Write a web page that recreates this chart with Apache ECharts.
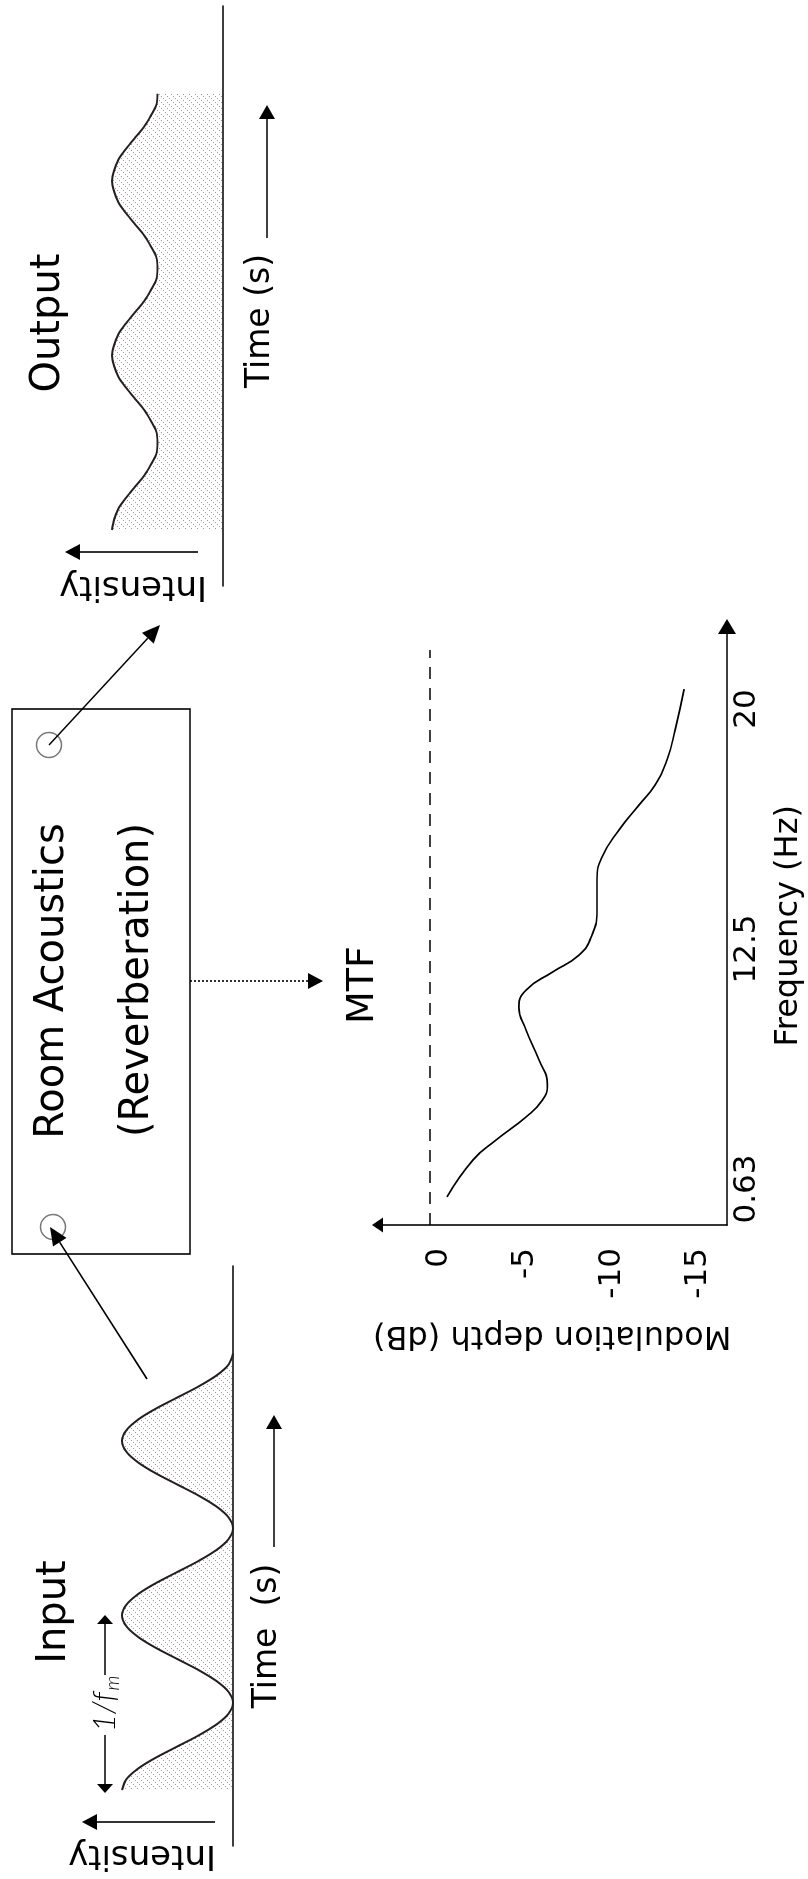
<!DOCTYPE html>
<html><head><meta charset="utf-8">
<script src="https://cdn.jsdelivr.net/npm/echarts@6/dist/echarts.min.js"></script>
<style>
html,body{margin:0;padding:0;background:#fff;overflow:hidden;width:808px;height:1879px;}
#chart{position:absolute;left:0;top:0;width:1879px;height:808px;transform-origin:0 0;transform:translate(0px,1879px) rotate(-90deg);background:#fff;}
</style></head><body><div id="chart"></div>
<script>
// ---- data ----
const waveTime = [0,0.0625,0.125,0.1875,0.25,0.3125,0.375,0.4375,0.5,0.5625,0.625,0.6875,0.75,0.8125,0.875,0.9375,
  1,1.0625,1.125,1.1875,1.25,1.3125,1.375,1.4375,1.5,1.5625,1.625,1.6875,1.75,1.8125,1.875,1.9375,
  2,2.0625,2.125,2.1875,2.25,2.3125,2.375,2.4375,2.5];
const inputIntensity = [1,0.96,0.85,0.69,0.5,0.31,0.15,0.04,0,0.04,0.15,0.31,0.5,0.69,0.85,0.96,
  1,0.96,0.85,0.69,0.5,0.31,0.15,0.04,0,0.04,0.15,0.31,0.5,0.69,0.85,0.96,
  1,0.96,0.85,0.69,0.5,0.31,0.15,0.04,0];
const outputIntensity = [1,0.98,0.94,0.87,0.79,0.71,0.65,0.6,0.59,0.6,0.65,0.71,0.79,0.87,0.94,0.98,
  1,0.98,0.94,0.87,0.79,0.71,0.65,0.6,0.59,0.6,0.65,0.71,0.79,0.87,0.94,0.98,
  1,0.98,0.94,0.87,0.79,0.71,0.65,0.6,0.59];
const mtfFreqPos = [-0.033,0.121,0.204,0.3,0.371,0.433,0.538,0.663,0.758,0.829,0.904,0.975,1.058,1.163,1.288,1.383,1.496,1.6,1.683,1.788,1.913,2.083];
const mtfDepth = [-0.98,-2.49,-3.82,-5.56,-6.51,-6.8,-6.31,-5.56,-5.15,-5.56,-7.09,-8.63,-9.38,-9.67,-9.67,-9.96,-10.94,-12.1,-13.03,-13.72,-14.19,-14.71];
const freqTickPos = [0,1,2];
const freqTickLabels = ['0.63','12.5','20'];
const depthTicks = [0,-5,-10,-15];
const refLineFreq = [-0.15,2.246];
const refLineDepth = [0,0];

// ---- helpers ----
const FONT = 'DejaVu Sans';
function zip(a,b){return a.map((v,i)=>[v,b[i]]);}
function hatch(){
  const c=document.createElement('canvas');c.width=6;c.height=6;
  const g=c.getContext('2d');g.fillStyle='rgba(90,90,90,0.6)';
  for(let i=0;i<6;i+=2){g.fillRect(i,5-i,1,1);}
  return c;
}
function arrowEls(x1,y1,x2,y2,len,half,dash){
  const dx=x2-x1,dy=y2-y1,d=Math.hypot(dx,dy),ux=dx/d,uy=dy/d;
  const bx=x2-ux*len,by=y2-uy*len;
  return [
    {type:'line',shape:{x1:x1,y1:y1,x2:bx,y2:by},style:{stroke:'#000',lineWidth:1.6,lineDash:dash||null}},
    {type:'polygon',shape:{points:[[x2,y2],[bx-uy*half,by+ux*half],[bx+uy*half,by-ux*half]]},style:{fill:'#000'}}
  ];
}
function txt(x,y,text,size,rot,extra){
  return {type:'text',x:x,y:y,rotation:rot||0,
    style:Object.assign({text:text,fontSize:size,fontFamily:FONT,fill:'#000',align:'center',verticalAlign:'middle'},extra||{})};
}
const R90 = Math.PI/2;
const pattern = {image:hatch(),repeat:'repeat'};

const graphics = [].concat(
  [txt(267,55,'Input',40), txt(1556,49,'Output',40), txt(894,363,'MTF',38)],
  // input intensity / time
  arrowEls(57,215,57,82,15,8), [txt(24,142,'Intensity',34,R90)],
  [txt(243,267,'Time  (s)',33)], arrowEls(332,274,464,274,14,8),
  // 1/fm
  arrowEls(144,105,86,105,9,8), arrowEls(204,105,264,105,9,8),
  [txt(167,105,'1/f',31,0,{fontFamily:'Lato',fontStyle:'italic',fontWeight:300}),
   txt(196,113,'m',19,0,{fontFamily:'Lato',fontStyle:'italic',fontWeight:300})],
  // output intensity / time
  arrowEls(1327,198,1327,65,15,8), [txt(1293,133,'Intensity',34,R90)],
  [txt(1558,260,'Time (s)',33)], arrowEls(1641,267,1774,267,14,8),
  // box
  [{type:'rect',shape:{x:625,y:12,width:545,height:178},style:{fill:'none',stroke:'#000',lineWidth:1.6}},
   {type:'circle',shape:{cx:652,cy:53,r:12.5},style:{fill:'none',stroke:'#777',lineWidth:1.5}},
   {type:'circle',shape:{cx:1134,cy:49,r:12.5},style:{fill:'none',stroke:'#777',lineWidth:1.5}},
   txt(898,53,'Room Acoustics',40), txt(899,138,'(Reverberation)',40)],
  arrowEls(500,147,652,50,18,8), arrowEls(1134,49,1254,160,18,8),
  arrowEls(898,190,898,323,15,8,[2,2])
);

const chart = echarts.init(document.getElementById('chart'),null,{renderer:'canvas'});
const axisBlack = {color:'#000',width:1.6};
chart.setOption({
  animation:false,
  backgroundColor:'#fff',
  grid:[
    {left:33,top:122,width:580,height:111,outerBoundsMode:'none'},
    {left:1293,top:112,width:580,height:111,outerBoundsMode:'none'},
    {left:654,top:377.5,width:598.5,height:349.5,outerBoundsMode:'none'}
  ],
  xAxis:[
    {gridIndex:0,type:'value',min:-0.321,max:3.003,axisLine:{onZero:false,lineStyle:axisBlack},axisTick:{show:false},axisLabel:{show:false},splitLine:{show:false}},
    {gridIndex:1,type:'value',min:-0.321,max:3.003,axisLine:{onZero:false,lineStyle:axisBlack},axisTick:{show:false},axisLabel:{show:false},splitLine:{show:false}},
    {gridIndex:2,type:'value',min:-0.15,max:2.344,
     axisLine:{onZero:false,lineStyle:axisBlack,symbol:['none','triangle'],symbolSize:[18,15]},
     axisTick:{show:false},splitLine:{show:false},
     axisLabel:{customValues:freqTickPos,formatter:function(v){const i=freqTickPos.indexOf(v);return i>=0?freqTickLabels[i]:'';},
       fontSize:31,fontFamily:FONT,color:'#000',margin:4},
     name:'Frequency (Hz)',nameLocation:'middle',nameGap:46,nameTextStyle:{fontSize:32,fontFamily:FONT,color:'#000'}}
  ],
  yAxis:[
    {gridIndex:0,type:'value',min:0,max:1,show:false},
    {gridIndex:1,type:'value',min:0,max:1,show:false},
    {gridIndex:2,type:'value',min:-17.197,max:3.04,
     axisLine:{onZero:false,lineStyle:axisBlack,symbol:['none','triangle'],symbolSize:[15,11]},
     axisTick:{show:false},splitLine:{show:false},
     axisLabel:{customValues:depthTicks,fontSize:31,fontFamily:FONT,color:'#000',margin:23,verticalAlign:'top',lineHeight:18},
     name:'Modulation depth (dB)',nameLocation:'middle',nameRotate:90,nameGap:94,nameTextStyle:{fontSize:32,fontFamily:FONT,color:'#000'}}
  ],
  series:[
    {type:'line',xAxisIndex:0,yAxisIndex:0,data:zip(waveTime,inputIntensity),smooth:0.3,symbol:'none',clip:false,
     lineStyle:{color:'#231f20',width:2},areaStyle:{color:pattern,opacity:1}},
    {type:'line',xAxisIndex:1,yAxisIndex:1,data:zip(waveTime,outputIntensity),smooth:0.3,symbol:'none',clip:false,
     lineStyle:{color:'#231f20',width:2},areaStyle:{color:pattern,opacity:1}},
    {type:'line',xAxisIndex:2,yAxisIndex:2,data:zip(mtfFreqPos,mtfDepth),smooth:true,symbol:'none',clip:false,
     lineStyle:{color:'#000',width:1.7}},
    {type:'line',xAxisIndex:2,yAxisIndex:2,data:zip(refLineFreq,refLineDepth),symbol:'none',clip:false,
     lineStyle:{color:'#000',width:1.5,type:[12,9]}}
  ],
  graphic:{elements:graphics}
});
</script></body></html>
